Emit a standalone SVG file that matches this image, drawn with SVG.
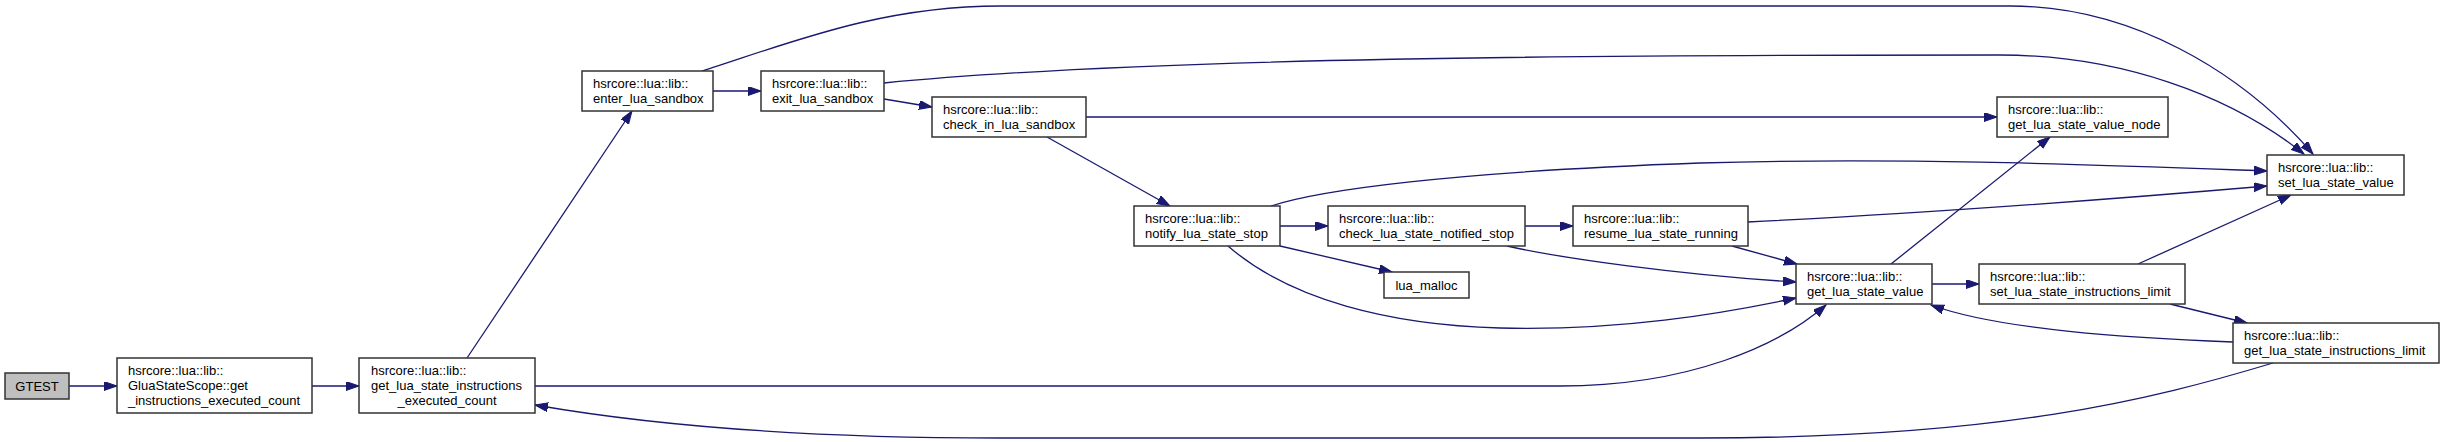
<svg xmlns="http://www.w3.org/2000/svg" width="2444" height="442" viewBox="0 0 2444 442">
<defs>
<marker id="ah" markerUnits="userSpaceOnUse" markerWidth="14" markerHeight="10" refX="13" refY="4.5" orient="auto">
<path d="M0,0 L13,4.5 L0,9 z" fill="#191970" stroke="#191970" stroke-width="1"/>
</marker>
</defs>
<style>
.n rect{fill:#ffffff;stroke:#333333;stroke-width:1.5}
.n text{font-family:"Liberation Sans",Arial,sans-serif;font-size:13px;fill:#000000}
.c{text-anchor:middle}
.e path{fill:none;stroke:#191970;stroke-width:1.3;marker-end:url(#ah)}
</style>
<rect x="0" y="0" width="2444" height="442" fill="#ffffff"/>
<g id="edges" class="e">
<path d="M69,386 L117,386"/>
<path d="M312,386 L359,386"/>
<path d="M467,358 L632,111"/>
<path d="M535,386 L1560,386 C1690,386 1780,345 1826,305"/>
<path d="M713,91 L761,91"/>
<path d="M702,71 C790,43 880,6 1000,6 L2010,6 C2130,6 2240,70 2313,154"/>
<path d="M884,99 L932,107"/>
<path d="M884,83 C1150,57 1600,55 2000,55 C2120,55 2230,95 2304,154"/>
<path d="M1086,117 L1997,117"/>
<path d="M1047,137 L1170,206"/>
<path d="M1280,226 L1328,226"/>
<path d="M1280,246 L1392,272"/>
<path d="M1271,206 C1320,190 1450,172 1700,163 C1900,157 2100,165 2267,171"/>
<path d="M1228,246 C1290,300 1390,325 1500,328 C1620,331 1720,314 1796,298"/>
<path d="M1525,226 L1573,226"/>
<path d="M1507,246 C1560,258 1680,275 1796,282"/>
<path d="M1748,222 C1950,212 2150,196 2267,186"/>
<path d="M1732,246 L1797,264"/>
<path d="M1891,264 L2050,137"/>
<path d="M1932,284 L1979,284"/>
<path d="M2138,264 L2291,195"/>
<path d="M2170,304 L2247,323"/>
<path d="M2233,342 C2130,338 2000,330 1931,305"/>
<path d="M2273,363 C2150,400 2000,438 1700,438 L1000,438 C800,438 650,425 535,405"/>
</g>
<g id="n_gtest" class="n"><rect x="5" y="373" width="64" height="26" style="fill:#bfbfbf"/><text x="37" y="391" class="c">GTEST</text></g>
<g id="n_gluastatescope" class="n"><rect x="117" y="358" width="195" height="55"/><text x="128" y="375">hsrcore::lua::lib::</text><text x="128" y="390">GluaStateScope::get</text><text x="128" y="405">_instructions_executed_count</text></g>
<g id="n_get_instr_exec" class="n"><rect x="359" y="358" width="176" height="55"/><text x="371" y="375">hsrcore::lua::lib::</text><text x="371" y="390">get_lua_state_instructions</text><text x="447" y="405" class="c">_executed_count</text></g>
<g id="n_enter" class="n"><rect x="582" y="71" width="131" height="40"/><text x="593" y="88">hsrcore::lua::lib::</text><text x="593" y="103">enter_lua_sandbox</text></g>
<g id="n_exit" class="n"><rect x="761" y="71" width="123" height="40"/><text x="772" y="88">hsrcore::lua::lib::</text><text x="772" y="103">exit_lua_sandbox</text></g>
<g id="n_check_in" class="n"><rect x="932" y="97" width="154" height="40"/><text x="943" y="114">hsrcore::lua::lib::</text><text x="943" y="129">check_in_lua_sandbox</text></g>
<g id="n_notify" class="n"><rect x="1134" y="206" width="146" height="40"/><text x="1145" y="223">hsrcore::lua::lib::</text><text x="1145" y="238">notify_lua_state_stop</text></g>
<g id="n_check_notified" class="n"><rect x="1328" y="206" width="197" height="40"/><text x="1339" y="223">hsrcore::lua::lib::</text><text x="1339" y="238">check_lua_state_notified_stop</text></g>
<g id="n_resume" class="n"><rect x="1573" y="206" width="175" height="40"/><text x="1584" y="223">hsrcore::lua::lib::</text><text x="1584" y="238">resume_lua_state_running</text></g>
<g id="n_lua_malloc" class="n"><rect x="1384" y="272" width="85" height="26"/><text x="1426.5" y="290" class="c">lua_malloc</text></g>
<g id="n_get_value_node" class="n"><rect x="1997" y="97" width="171" height="40"/><text x="2008" y="114">hsrcore::lua::lib::</text><text x="2008" y="129">get_lua_state_value_node</text></g>
<g id="n_set_value" class="n"><rect x="2267" y="155" width="137" height="40"/><text x="2278" y="172">hsrcore::lua::lib::</text><text x="2278" y="187">set_lua_state_value</text></g>
<g id="n_get_value" class="n"><rect x="1796" y="264" width="136" height="40"/><text x="1807" y="281">hsrcore::lua::lib::</text><text x="1807" y="296">get_lua_state_value</text></g>
<g id="n_set_instr_limit" class="n"><rect x="1979" y="264" width="206" height="40"/><text x="1990" y="281">hsrcore::lua::lib::</text><text x="1990" y="296">set_lua_state_instructions_limit</text></g>
<g id="n_get_instr_limit" class="n"><rect x="2233" y="323" width="206" height="40"/><text x="2244" y="340">hsrcore::lua::lib::</text><text x="2244" y="355">get_lua_state_instructions_limit</text></g>
</svg>
